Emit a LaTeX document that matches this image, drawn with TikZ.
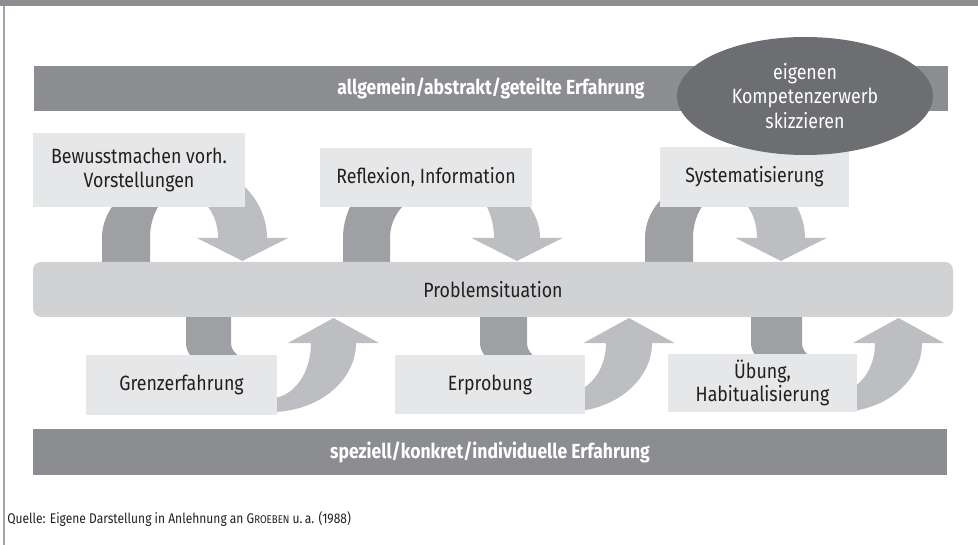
\documentclass[tikz,border=0pt]{standalone}
\usepackage{fontspec}
\setmainfont{Fira Sans}[FakeStretch=0.86]
\usetikzlibrary{shapes.geometric}
\definecolor{barc}{HTML}{8C8D91}
\definecolor{ellc}{HTML}{6D6E72}
\definecolor{darkarc}{HTML}{9FA0A4}
\definecolor{lightarr}{HTML}{BDBEC1}
\definecolor{probc}{HTML}{D1D2D4}
\definecolor{boxc}{HTML}{E6E7E8}
\definecolor{txtc}{HTML}{231F20}
\definecolor{bordc}{HTML}{A3A4A7}
\newcommand\boxfont{\fontsize{15.5}{17.5}\selectfont}
\newcommand\ellfont{\fontsize{15.5}{18.7}\selectfont}
\newcommand\barfont{\fontsize{15.3}{17}\selectfont\bfseries}
\newcommand\srcfont{\fontsize{10.5}{12}\selectfont}
\newcommand{\UpLoop}[9]{%
  \fill[darkarc] ({#1-#2},262) -- plot[domain=180:270] ({#1+#2*cos(\x)},{238+#3*sin(\x)})
    -- plot[domain=270:180] ({#1+#4*cos(\x)},{238+#5*sin(\x)}) -- ({#1-#4},262) -- cycle;
  \pgfmathsetmacro\hx{#1+(#6+#8)/2}
  \fill[lightarr] plot[domain=270:360] ({#1+#6*cos(\x)},{238+#7*sin(\x)})
    -- ({\hx+45.5},238) -- (\hx,261) -- ({\hx-45.5},238)
    -- plot[domain=360:270] ({#1+#8*cos(\x)},{238+#9*sin(\x)}) -- cycle;
}
\newcommand{\LowLoop}[9]{%
  \fill[darkarc] ({#1-#2},317) -- plot[domain=180:90] ({#1+#2*cos(\x)},{343+#3*sin(\x)})
    -- plot[domain=90:180] ({#1+#4*cos(\x)},{343+#5*sin(\x)}) -- ({#1-#4},317) -- cycle;
  \pgfmathsetmacro\hx{#1+(#6+#8)/2}
  \fill[lightarr] plot[domain=90:0] ({#1+#6*cos(\x)},{343+#7*sin(\x)})
    -- ({\hx+45.5},343) -- (\hx,318) -- ({\hx-45.5},343)
    -- plot[domain=0:90] ({#1+#8*cos(\x)},{343+#9*sin(\x)}) -- cycle;
}
\begin{document}
\begin{tikzpicture}[x=0.75pt,y=-0.75pt,samples=40,
  stagebox/.style={fill=boxc, inner sep=0pt, align=center, text=txtc, font=\boxfont},
  levelbar/.style={fill=barc, inner sep=0pt, text=white, font=\barfont},
  probbar/.style={fill=probc, inner sep=0pt, rounded corners=6pt, text=txtc, font=\boxfont},
  goalell/.style={ellipse, fill=ellc, inner sep=0pt, align=center, text=white, font=\ellfont}]
\useasboundingbox (0,0) rectangle (978,545);
% frame
\fill[barc] (0,0) rectangle (978,6);
\draw[bordc, line width=1.5pt] (4,6) -- (4,545);
% top level bar
\node[levelbar, minimum width=914*0.75pt, minimum height=45*0.75pt] (top) at (491,88.5) {allgemein/abstrakt/geteilte Erfahrung};
% loops
\UpLoop{184}{82}{65}{34}{48}{83}{75}{34}{44}
\UpLoop{442}{99}{84}{52}{48.5}{98}{70.5}{52}{62}
\UpLoop{725}{80}{64}{32}{45}{80}{71.5}{32}{45}
\LowLoop{271}{85}{40}{40}{22}{85}{69}{40}{55}
\LowLoop{566}{86}{38}{39}{23}{86}{69}{40}{50}
\LowLoop{839}{88}{40}{37}{22}{83}{69}{36}{48}
% problem bar
\node[probbar, minimum width=920*0.75pt, minimum height=55*0.75pt] (prob) at (493,289.5) {Problemsituation};
% stage boxes
\node[stagebox, minimum width=212*0.75pt, minimum height=74*0.75pt] (bew) at (139,170) {Bewusstmachen vorh.\\Vorstellungen};
\node[stagebox, minimum width=212*0.75pt, minimum height=59*0.75pt] (ref) at (426,177.5) {Reflexion, Information};
\node[stagebox, minimum width=189*0.75pt, minimum height=60*0.75pt] (sys) at (754.5,177) {Systematisierung};
\node[stagebox, minimum width=191*0.75pt, minimum height=60*0.75pt] (gre) at (181.5,385) {Grenzerfahrung};
\node[stagebox, minimum width=190*0.75pt, minimum height=59*0.75pt] (erp) at (490,384.5) {Erprobung};
\node[stagebox, minimum width=189*0.75pt, minimum height=58*0.75pt] (ueb) at (762.5,383) {Übung,\\Habitualisierung};
% goal ellipse
\node[goalell, minimum width=256*0.75pt, minimum height=118*0.75pt] (goal) at (805,96) {eigenen\\Kompetenzerwerb\\skizzieren};
% bottom level bar
\node[levelbar, minimum width=914*0.75pt, minimum height=46*0.75pt] (bot) at (490,452) {speziell/konkret/individuelle Erfahrung};
% source
\node[anchor=base west, inner sep=0pt, text=txtc, font=\srcfont] (src) at (7,523) {Quelle: Eigene Darstellung in Anlehnung an G{\fontsize{8.4}{10}\selectfont ROEBEN} u.\,a. (1988)};
\end{tikzpicture}
\end{document}
